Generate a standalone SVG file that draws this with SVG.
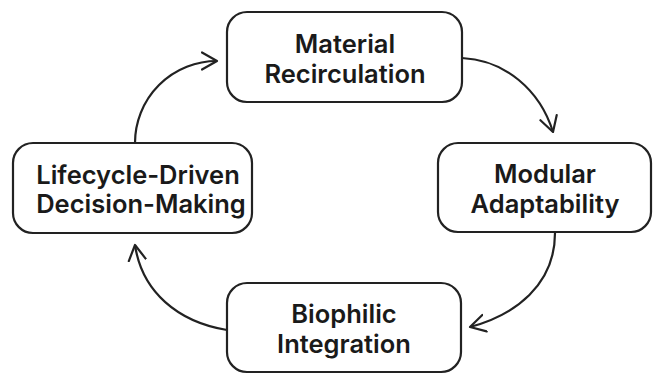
<svg xmlns="http://www.w3.org/2000/svg" width="654" height="374" viewBox="0 0 654 374">
<style>
.box{fill:#fff;stroke:#222;stroke-width:2.2}
.lbl{font-family:Inter,"Liberation Sans",sans-serif;font-weight:600;font-size:25.5px;fill:#1a1a1a;text-anchor:middle}
.arc{fill:none;stroke:#222;stroke-width:2.2;marker-end:url(#ah)}
</style>
<defs>
<marker id="ah" viewBox="0 0 18 20" refX="16" refY="10" markerWidth="18" markerHeight="20" markerUnits="userSpaceOnUse" orient="auto">
<path d="M1,1.5 L16,10 L1,18.5" fill="none" stroke="#222" stroke-width="2.2" stroke-linecap="round" stroke-linejoin="round"/>
</marker>
</defs>
<rect width="654" height="374" fill="#fff"/>
<g id="connectors">
<path class="arc" d="M135,143 A82,82 0 0 1 217,61"/>
<path class="arc" d="M462,58 C505,60 540,90 553,132"/>
<path class="arc" d="M555,233 C555,285 515,315 470,327"/>
<path class="arc" d="M227,330 C178,322 142,292 135,245"/>
</g>
<g id="material-recirculation">
<rect class="box" x="227" y="12" width="235" height="90" rx="20"/>
<text class="lbl" x="345" y="53">Material</text>
<text class="lbl" x="345" y="83">Recirculation</text>
</g>
<g id="modular-adaptability">
<rect class="box" x="438" y="143" width="213" height="89" rx="20"/>
<text class="lbl" x="545" y="183">Modular</text>
<text class="lbl" x="545" y="213">Adaptability</text>
</g>
<g id="lifecycle-driven">
<rect class="box" x="13" y="143" width="239" height="90" rx="20"/>
<text class="lbl" x="138" y="184">Lifecycle-Driven</text>
<text class="lbl" x="141" y="213">Decision-Making</text>
</g>
<g id="biophilic-integration">
<rect class="box" x="227" y="283" width="234" height="89" rx="20"/>
<text class="lbl" x="344" y="323">Biophilic</text>
<text class="lbl" x="344" y="353">Integration</text>
</g>
</svg>
